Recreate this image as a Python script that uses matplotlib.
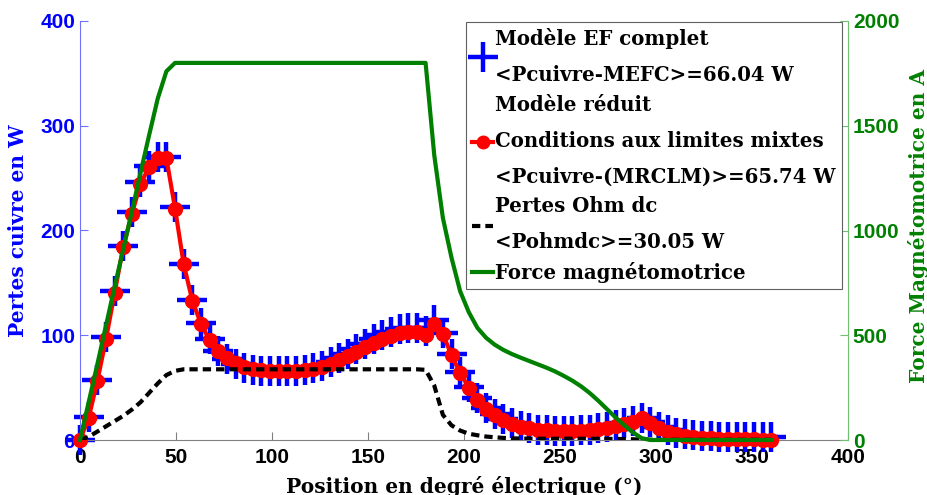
import matplotlib
matplotlib.use("Agg")
import matplotlib.pyplot as plt

# electrical position (deg)
angle = [0, 4.5, 9, 13.5, 18, 22.5, 27, 31.5, 36, 40.5, 45, 49.5, 54, 58.5, 63, 67.5,
         72, 76.5, 81, 85.5, 90, 94.5, 99, 103.5, 108, 112.5, 117, 121.5, 126, 130.5,
         135, 139.5, 144, 148.5, 153, 157.5, 162, 166.5, 171, 175.5, 180, 184.5, 189,
         193.5, 198, 202.5, 207, 211.5, 216, 220.5, 225, 229.5, 234, 238.5, 243, 247.5,
         252, 256.5, 261, 265.5, 270, 274.5, 279, 283.5, 288, 292.5, 297, 301.5, 306,
         310.5, 315, 319.5, 324, 328.5, 333, 337.5, 342, 346.5, 351, 355.5, 360]

# copper losses, full FE model (W)
p_mefc = [0, 22, 57, 98, 142, 185, 218, 246, 262, 270, 270, 222, 168, 134, 112, 96,
          85, 77.5, 72.5, 69, 67, 66, 65.5, 65.5, 65.5, 66, 67, 68.5, 71, 74,
          78, 82.5, 87, 91.5, 96, 100, 103, 105.5, 107, 107, 104.5, 114.5, 102,
          82, 65, 51, 40, 31, 25, 20, 16, 13, 11, 10, 9.5, 9,
          9, 9, 9.5, 10, 11, 12.5, 14, 16, 18.5, 21, 17, 12.5, 9.5,
          7, 5.5, 4.5, 4, 3.5, 3, 3, 2.8, 2.6, 2.5, 2.5, 2.5]

# copper losses, reduced model with mixed boundary conditions (W)
p_mrclm = [0, 21, 56, 96, 140, 184, 216, 244, 261, 269, 269, 221, 168, 133, 111, 95,
           85, 78, 73.5, 70, 68, 67, 66.2, 66, 66, 66.2, 67, 68, 70, 72.5,
           76, 80, 84, 88.5, 92.5, 96, 99.5, 102, 103.5, 103, 100, 111, 101,
           81, 64, 50, 38.5, 29.5, 23.5, 19, 15, 12.5, 11, 10, 9.2, 8.6,
           8.2, 8.2, 8.6, 9.3, 10.3, 11.5, 13, 15, 17.5, 21, 16, 11.5, 7.8,
           5.4, 3.9, 2.9, 2.2, 1.7, 1.3, 1, 0.8, 0.6, 0.5, 0.4, 0.4]

# dc ohmic losses (W)
p_ohm_dc = [0, 3, 8, 13, 18, 23, 29, 36, 45, 54, 62, 66, 67.5, 67.5, 67.5, 67.5,
            67.5, 67.5, 67.5, 67.5, 67.5, 67.5, 67.5, 67.5, 67.5, 67.5, 67.5, 67.5, 67.5, 67.5,
            67.5, 67.5, 67.5, 67.5, 67.5, 67.5, 67.5, 67.5, 67.5, 67.5, 67, 52, 24,
            14, 9, 6, 4.5, 3.3, 2.6, 2, 1.6, 1.4, 1.3, 1.2, 1.2, 1.2,
            1.2, 1.2, 1.2, 1.2, 1.2, 1.1, 1, 0.9, 0.7, 0.5, 0.3, 0.2, 0.2,
            0.2, 0.2, 0.2, 0.2, 0.2, 0.2, 0.2, 0.2, 0.2, 0.2, 0.2, 0.2]

# magnetomotive force (A)
mmf = [0, 180, 360, 545, 730, 910, 1090, 1275, 1455, 1630, 1760, 1800, 1800, 1800, 1800, 1800,
       1800, 1800, 1800, 1800, 1800, 1800, 1800, 1800, 1800, 1800, 1800, 1800, 1800, 1800,
       1800, 1800, 1800, 1800, 1800, 1800, 1800, 1800, 1800, 1800, 1800, 1360, 1060,
       870, 710, 610, 535, 488, 455, 430, 410, 393, 377, 361, 345, 327,
       306, 283, 256, 224, 187, 147, 107, 70, 36, 9, 0, 0, 0,
       0, 0, 0, 0, 0, 0, 0, 0, 0, 0, 0, 0]

labels = ["Modèle EF complet\n<Pcuivre-MEFC>=66.04 W",
          "Modèle réduit\nConditions aux limites mixtes\n<Pcuivre-(MRCLM)>=65.74 W",
          "Pertes Ohm dc\n<Pohmdc>=30.05 W",
          "Force magnétomotrice"]

BLUE = "#0000ff"
RED = "#ff0000"
GREEN = "#008000"
lab_font = {"family": "DejaVu Serif", "weight": "bold", "size": 14.5}

fig = plt.figure(figsize=(9.28, 4.95), dpi=100)
ax = fig.add_axes([80 / 928, 55 / 495, 768 / 928, 419 / 495])
ax2 = ax.twinx()

h1, = ax.plot(angle, p_mefc, linestyle="none", marker="+", ms=21, mew=3.2,
              color=BLUE, clip_on=False, zorder=2)
h2, = ax.plot(angle, p_mrclm, "-o", color=RED, lw=3, ms=10, clip_on=False, zorder=3)
h3, = ax.plot(angle, p_ohm_dc, "--", color="black", lw=3, dashes=(2, 1.2), zorder=4)
h4, = ax2.plot(angle, mmf, "-", color=GREEN, lw=3, clip_on=False)

ax.set_xlim(0, 400)
ax.set_ylim(0, 400)
ax2.set_ylim(0, 2000)
ax.set_xticks(range(0, 401, 50))
ax.set_yticks(range(0, 401, 100))
ax2.set_yticks(range(0, 2001, 500))

for a in (ax, ax2):
    a.spines["top"].set_visible(False)
    a.tick_params(direction="in", length=6, width=0.8)
ax.spines["left"].set_color("#7070ff")
ax.spines["bottom"].set_color("#808080")
ax.spines["right"].set_visible(False)
ax2.spines["left"].set_visible(False)
ax2.spines["bottom"].set_visible(False)
ax2.spines["right"].set_color("#70c070")
ax.tick_params(axis="y", colors=BLUE, color="#7070ff")
ax.tick_params(axis="x", colors="black", color="#808080", pad=6)
ax2.tick_params(axis="y", colors=GREEN, color="#70c070")

for lab in ax.get_xticklabels() + ax.get_yticklabels() + ax2.get_yticklabels():
    lab.set_fontfamily("Liberation Sans")
    lab.set_fontweight("bold")
    lab.set_fontsize(15)

ax.set_xlabel("Position en degré électrique (°)", fontdict=lab_font, color="black")
ax.xaxis.set_label_coords(0.5, -0.085)
ax.set_ylabel("Pertes cuivre en W", fontdict=lab_font, color=BLUE)
ax.yaxis.set_label_coords(-0.068, 0.5)
ax2.set_ylabel("Force Magnétomotrice en A", fontdict=lab_font, color=GREEN)
ax2.yaxis.set_label_coords(1.078, 0.51)

leg = ax2.legend([h1, h2, h3, h4], labels, loc="upper right",
                 bbox_to_anchor=(0.992, 0.998), borderaxespad=0,
                 prop={"family": "DejaVu Serif", "weight": "bold", "size": 14.2},
                 fancybox=False, framealpha=1, edgecolor="#606060",
                 handlelength=1.1, handletextpad=0.1, borderpad=0.3,
                 labelspacing=0.5)
leg.get_frame().set_linewidth(0.8)
for t in leg.get_texts():
    t.set_linespacing(2.0)
for lh in leg.legend_handles:
    if lh.get_marker() == "o":
        lh.set_markersize(9)

fig.savefig("out.png", dpi=100)
